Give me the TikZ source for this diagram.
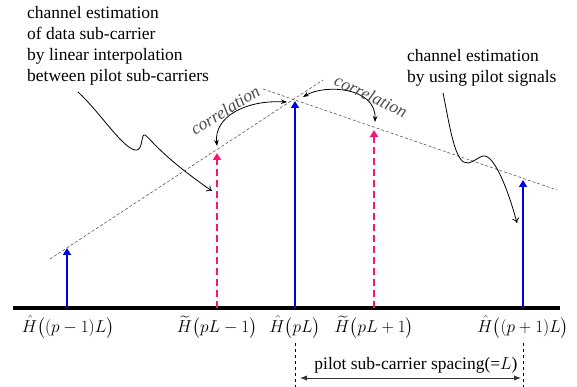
\documentclass[tikz,border=0pt]{standalone}
\usepackage{amsmath}
\usepackage{fontspec}
\setmainfont{Liberation Serif}
\usetikzlibrary{arrows.meta}

\definecolor{pilotblue}{RGB}{0,0,225}
\definecolor{datapink}{RGB}{250,20,115}

\tikzset{
    pilot/.style={pilotblue, line width=2.6pt, -{Triangle[width=8pt,length=7pt]}},
    data/.style={datapink, line width=2.6pt, dash pattern=on 7pt off 4pt,
        -{Triangle[width=8pt,length=7pt]}},
    interp/.style={gray!70!black, line width=0.6pt, dash pattern=on 3pt off 2pt},
    corr/.style={black, line width=0.8pt, {Stealth[length=6pt]}-{Stealth[length=6pt]}},
    squiggle/.style={black, line width=0.8pt, -{To[length=5pt,width=7pt]}},
    corrlabel/.style={gray!60!black, font=\fontsize{17.5}{21}\selectfont\itshape},
    lbl/.style={inner sep=0pt}
}

\begin{document}
\begin{tikzpicture}[x=1pt, y=1pt, font=\fontsize{17.5}{21}\selectfont]

    \useasboundingbox (0,0) rectangle (577,387);

    % ============================================================
    % SUB-CARRIER AXIS
    % ============================================================
    \coordinate (axisL) at (13,79);
    \coordinate (axisR) at (560,79);
    \draw[line width=4pt] (axisL) -- (axisR);

    % ============================================================
    % PILOT AND DATA ESTIMATES
    % ============================================================
    \coordinate (baseA) at (67,79);   \coordinate (tipA) at (67,139);
    \coordinate (baseB) at (217,79);  \coordinate (tipB) at (217,234);
    \coordinate (baseC) at (295,79);  \coordinate (tipC) at (295,286);
    \coordinate (baseD) at (374,79);  \coordinate (tipD) at (374,257);
    \coordinate (baseE) at (523,79);  \coordinate (tipE) at (523,207);

    \draw[pilot] (baseA) -- (tipA);
    \draw[data]  (baseB) -- (tipB);
    \draw[pilot] (baseC) -- (tipC);
    \draw[data]  (baseD) -- (tipD);
    \draw[pilot] (baseE) -- (tipE);

    % ============================================================
    % LINEAR INTERPOLATION LINES
    % ============================================================
    \coordinate (riseS) at (50,128);
    \coordinate (riseE) at (323,307);
    \coordinate (fallS) at (263,298);
    \coordinate (fallE) at (557,197);
    \draw[interp] (riseS) -- (riseE);
    \draw[interp] (fallS) -- (fallE);

    % ============================================================
    % CORRELATION
    % ============================================================
    \coordinate (corrA) at (287,285);
    \coordinate (corrB) at (217,241);
    \coordinate (corrC) at (303,290);
    \coordinate (corrD) at (375,265);
    \draw[corr] (corrA) .. controls (245,287) and (214,270) .. (corrB);
    \draw[corr] (corrC) .. controls (325,303) and (376,300) .. (corrD);
    \node[corrlabel, rotate=32] (corrL) at (225,277) {correlation};
    \node[corrlabel, rotate=-25] (corrR) at (371,291) {correlation};

    % ============================================================
    % ANNOTATIONS
    % ============================================================
    \node[lbl, anchor=north west, align=left] (interpText) at (27,381)
        {channel estimation\\of data sub-carrier\\by linear interpolation\\between pilot sub-carriers};
    \node[lbl, anchor=north west, align=left] (pilotText) at (407,338)
        {channel estimation\\by using pilot signals};

    \coordinate (sqA) at (78,295);
    \coordinate (sqB) at (212,196);
    \draw[squiggle] (sqA) .. controls (100,275) and (125,235) .. (137,237)
        .. controls (143,238) and (141,254) .. (145,252)
        .. controls (150,249) and (160,232) .. (sqB);

    \coordinate (sqC) at (443,294);
    \coordinate (sqD) at (517,164);
    \draw[squiggle] (sqC) .. controls (450,260) and (455,222) .. (468,224)
        .. controls (478,226) and (482,236) .. (490,228)
        .. controls (500,218) and (510,190) .. (sqD);

    % ============================================================
    % SUB-CARRIER LABELS
    % ============================================================
    \node (labA) at (68,60)  {$\hat{H}\bigl((p-1)L\bigr)$};
    \node (labB) at (217,60) {$\widetilde{H}\bigl(pL-1\bigr)$};
    \node (labC) at (295,60) {$\hat{H}\bigl(pL\bigr)$};
    \node (labD) at (374,60) {$\widetilde{H}\bigl(pL+1\bigr)$};
    \node (labE) at (523,60) {$\hat{H}\bigl((p+1)L\bigr)$};

    % ============================================================
    % PILOT SPACING
    % ============================================================
    \coordinate (spL) at (295,44);
    \coordinate (spR) at (523,44);
    \draw[dashed, line width=0.6pt] (spL) -- (295,0);
    \draw[dashed, line width=0.6pt] (spR) -- (523,0);
    \coordinate (arL) at (300,9);
    \coordinate (arR) at (521,9);
    \draw[gray!40!black, line width=0.8pt, {Latex[length=7pt]}-{Latex[length=7pt]}] (arL) -- (arR);
    \node (spText) at (416,22) {pilot sub-carrier spacing(=$L$)};

\end{tikzpicture}
\end{document}
